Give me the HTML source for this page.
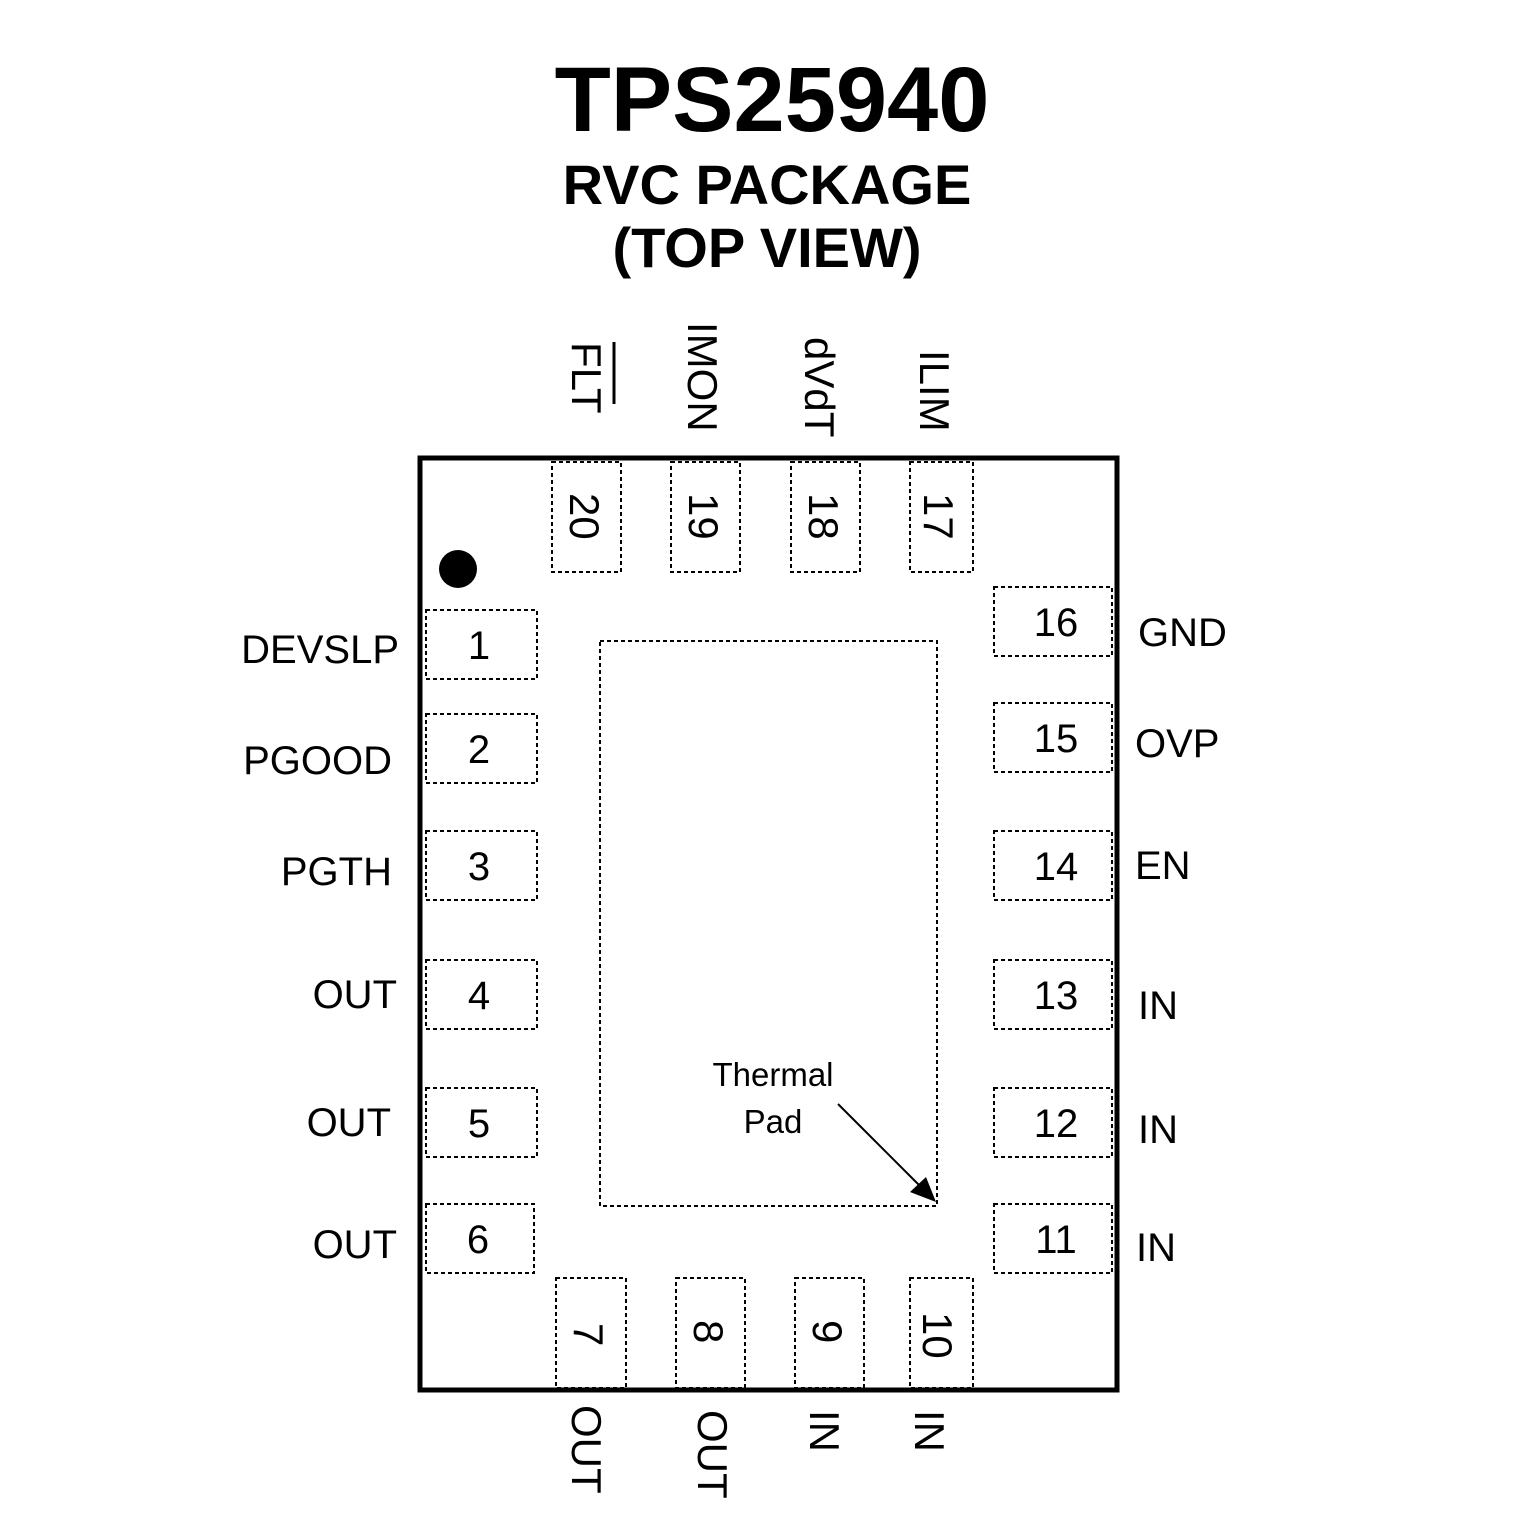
<!DOCTYPE html>
<html><head><style>body{margin:0;background:#fff}svg{display:block}</style></head><body>
<svg width="1535" height="1535" viewBox="0 0 1535 1535" xmlns="http://www.w3.org/2000/svg">
<g font-family="Liberation Sans, Arial, sans-serif" font-weight="bold" text-anchor="middle" fill="#000">
<text x="772" y="131" font-size="92">TPS25940</text>
<text x="767" y="204" font-size="56">RVC PACKAGE</text>
<text x="767" y="267" font-size="56">(TOP VIEW)</text>
</g>
<rect x="420" y="458" width="697" height="932" fill="none" stroke="#000" stroke-width="5"/>
<circle cx="458" cy="569" r="19" fill="#000"/>
<g fill="none" stroke="#000" stroke-width="2" stroke-dasharray="4,3">
<rect x="552" y="462" width="69" height="110"/>
<rect x="671" y="462" width="69" height="110"/>
<rect x="791" y="462" width="69" height="110"/>
<rect x="910" y="462" width="63" height="110"/>
<rect x="426" y="610" width="111" height="69"/>
<rect x="426" y="714" width="111" height="69"/>
<rect x="426" y="831" width="111" height="69"/>
<rect x="426" y="960" width="111" height="69"/>
<rect x="426" y="1088" width="111" height="69"/>
<rect x="426" y="1204" width="108" height="69"/>
<rect x="994" y="587" width="118" height="69"/>
<rect x="994" y="703" width="118" height="69"/>
<rect x="994" y="831" width="118" height="69"/>
<rect x="994" y="960" width="118" height="69"/>
<rect x="994" y="1088" width="118" height="69"/>
<rect x="994" y="1204" width="118" height="69"/>
<rect x="556" y="1278" width="70" height="110"/>
<rect x="676" y="1278" width="69" height="110"/>
<rect x="795" y="1278" width="69" height="110"/>
<rect x="910" y="1278" width="63" height="110"/>
<rect x="600" y="641" width="337" height="565"/>
</g>
<line x1="838" y1="1104" x2="922" y2="1188" stroke="#000" stroke-width="2"/>
<polygon points="936,1202 910,1192 926,1177" fill="#000"/>
<g font-family="Liberation Sans, Arial, sans-serif" font-size="42" fill="#000">
<text transform="translate(570,493) rotate(90)">20</text>
<text transform="translate(689,493) rotate(90)">19</text>
<text transform="translate(809,493) rotate(90)">18</text>
<text transform="translate(924,493) rotate(90)">17</text>
<text transform="translate(574,1323) rotate(90)">7</text>
<text transform="translate(694,1320) rotate(90)">8</text>
<text transform="translate(813,1320) rotate(90)">9</text>
<text transform="translate(923,1312) rotate(90)">10</text>
<text transform="translate(572,342) rotate(90)">FLT</text>
<text transform="translate(688,322) rotate(90)">IMON</text>
<text transform="translate(805,337) rotate(90)">dVdT</text>
<text transform="translate(920,350) rotate(90)">ILIM</text>
<text transform="translate(572,1405) rotate(90)">OUT</text>
<text transform="translate(698,1410) rotate(90)">OUT</text>
<text transform="translate(810,1410) rotate(90)">IN</text>
<text transform="translate(915,1410) rotate(90)">IN</text>
</g>
<line x1="614" y1="342" x2="614" y2="404" stroke="#000" stroke-width="3"/>
<g font-family="Liberation Sans, Arial, sans-serif" font-size="40" fill="#000" text-anchor="middle">
<text x="479" y="659">1</text>
<text x="479" y="763">2</text>
<text x="479" y="880">3</text>
<text x="479" y="1009">4</text>
<text x="479" y="1137">5</text>
<text x="478" y="1253">6</text>
<text x="1056" y="636">16</text>
<text x="1056" y="752">15</text>
<text x="1056" y="880">14</text>
<text x="1056" y="1009">13</text>
<text x="1056" y="1137">12</text>
<text x="1056" y="1253">11</text>
</g>
<g font-family="Liberation Sans, Arial, sans-serif" font-size="40" fill="#000" text-anchor="end">
<text x="399" y="663">DEVSLP</text>
<text x="392" y="774">PGOOD</text>
<text x="392" y="885">PGTH</text>
<text x="397" y="1008">OUT</text>
<text x="391" y="1136">OUT</text>
<text x="397" y="1258">OUT</text>
</g>
<g font-family="Liberation Sans, Arial, sans-serif" font-size="40" fill="#000">
<text x="1138" y="646">GND</text>
<text x="1135" y="757">OVP</text>
<text x="1135" y="879">EN</text>
<text x="1138" y="1019">IN</text>
<text x="1138" y="1143">IN</text>
<text x="1136" y="1261">IN</text>
</g>
<g font-family="Liberation Sans, Arial, sans-serif" font-size="33" fill="#000" text-anchor="middle">
<text x="773" y="1086">Thermal</text>
<text x="773" y="1133">Pad</text>
</g>
</svg>
</body></html>
